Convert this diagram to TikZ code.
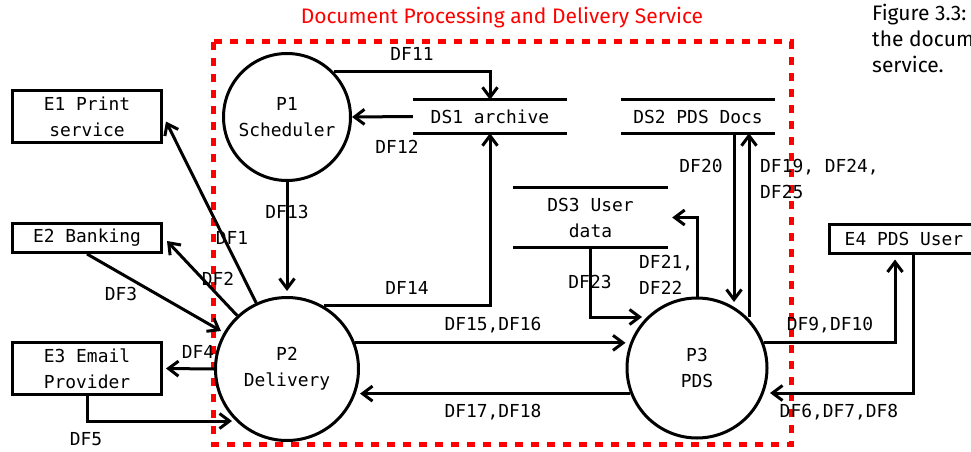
\documentclass[tikz,border=0pt]{standalone}
\usepackage{fontspec}
\setmainfont{Fira Sans}
\newfontfamily\dfdmono{DejaVu Sans Mono}
\usetikzlibrary{arrows.meta,calc}

\definecolor{boundary}{RGB}{255,0,0}

\tikzset{
  dfd/.style={line width=3pt},
  flow/.style={dfd, -{Straight Barb[length=10pt,width=15pt]}},
  proc/.style={dfd, draw, circle, inner sep=0pt, align=center,
               font=\dfdmono\fontsize{17.9}{26}\selectfont},
  entity/.style={dfd, draw, rectangle, inner sep=0pt, align=center,
                 minimum width=149pt,
                 font=\dfdmono\fontsize{17.9}{26}\selectfont},
  store/.style={inner sep=0pt, align=center, minimum width=154pt,
                font=\dfdmono\fontsize{17.9}{26}\selectfont},
  lbl/.style={inner sep=0pt, text height=13pt, text depth=0pt,
              font=\dfdmono\fontsize{17.9}{26}\selectfont},
}

\begin{document}
\begin{tikzpicture}[x=1pt,y=-1pt]
\useasboundingbox (0,0) rectangle (971,452);
\begin{scope}
\clip (0,0) rectangle (971,452);

% system boundary and its title
\draw[boundary, line width=5pt, dash pattern=on 8pt off 8pt]
  (213,42) rectangle (791.5,444);
\node[text=boundary, font=\fontsize{21}{26}\selectfont] (title) at (502,18)
  {Document Processing and Delivery Service};

% figure caption beside the diagram
\node[anchor=north west, align=left, inner sep=0pt,
      font=\fontsize{21}{26}\selectfont] (caption) at (872,4)
  {Figure 3.3:\\the document\\service.};

% processes
\node[proc, minimum size=127pt] (p1) at (287,117) {P1\\Scheduler};
\node[proc, minimum size=143pt] (p2) at (287,369) {P2\\Delivery};
\node[proc, minimum size=140pt] (p3) at (697,368) {P3\\PDS};

% external entities
\node[entity, minimum height=52pt] (e1) at (87,116.5) {E1 Print\\service};
\node[entity, minimum height=29pt] (e2) at (87,238) {E2 Banking};
\node[entity, minimum height=52pt] (e3) at (87,368.5) {E3 Email\\Provider};
\node[entity, minimum height=29pt] (e4) at (904,238.5) {E4 PDS User};

% data stores (open-ended, top and bottom rules only)
\node[store, minimum height=33pt] (ds1) at (490,116.5) {DS1 archive};
\node[store, minimum height=33pt] (ds2) at (698,116.5) {DS2 PDS Docs};
\node[store, minimum width=155pt, minimum height=59pt] (ds3) at (590.5,217.5)
  {DS3 User\\data};
\foreach \s in {ds1,ds2,ds3}{
  \draw[dfd] (\s.north west) -- (\s.north east);
  \draw[dfd] (\s.south west) -- (\s.south east);
}

% data flows
\draw[flow] (p1.44) -| (ds1.north);
\draw[flow] (ds1.west) -- (p1.east);
\draw[flow] (p1.south) -- ($(p2.north)+(0,-5)$);
\draw[flow] (p2.60) -| (ds1.south);
\draw[flow] (p2.21) -- (p2.21 -| p3.west);
\draw[flow] (p3.201) -- (p3.201 -| p2.east);
\draw[flow] (p2.115) -- ($(e1.east)+(3,5)$);
\draw[flow] (p2.133) -- ($(e2.east)+(4,3)$);
\draw[flow] (e2.south) -- ($(p2.center)+(-66,-38)$);
\draw[flow] (p2.west) -- ($(e3.east)+(3,0)$);
\draw[flow] (e3.south) |- ($(p2.center)+(-55,52)$);
\draw[flow] ($(ds2.south)+(36,0)$) -- ($(p3.center)+(37,-66)$);
\draw[flow] ($(p3.center)+(52,-51)$) -- ($(ds2.south)+(51,0)$);
\draw[flow] (p3.north) |- ($(ds3.east)+(4,0)$);
\draw[flow] (ds3.south) |- ($(p3.center)+(-55,-51)$);
\draw[flow] (p3.21) -| ($(e4.south)+(-9,5)$);
\draw[flow] ($(e4.south)+(9,0)$) |- ($(p3.center)+(73,25)$);

% flow labels
\node[lbl] (l11) at (412,54) {DF11};
\node[lbl] (l12) at (397,147) {DF12};
\node[lbl] (l13) at (287,212) {DF13};
\node[lbl] (l14) at (407,288) {DF14};
\node[lbl] (l15) at (493,324) {DF15,DF16};
\node[lbl] (l17) at (493,411) {DF17,DF18};
\node[lbl] (l1) at (232,238) {DF1};
\node[lbl] (l2) at (218,279) {DF2};
\node[lbl] (l3) at (121,294) {DF3};
\node[lbl] (l4) at (198,352) {DF4};
\node[lbl] (l5) at (86,439) {DF5};
\node[lbl] (l20) at (701,166) {DF20};
\node[lbl, anchor=west] (l19) at (760,166) {DF19, DF24,};
\node[lbl, anchor=west] (l25) at (760,192) {DF25};
\node[lbl, anchor=west] (l21) at (639,262) {DF21,};
\node[lbl, anchor=west] (l22) at (639,288) {DF22};
\node[lbl] (l23) at (590,282) {DF23};
\node[lbl] (l9) at (830,324) {DF9,DF10};
\node[lbl] (l6) at (839,411) {DF6,DF7,DF8};
\end{scope}
\end{tikzpicture}
\end{document}
